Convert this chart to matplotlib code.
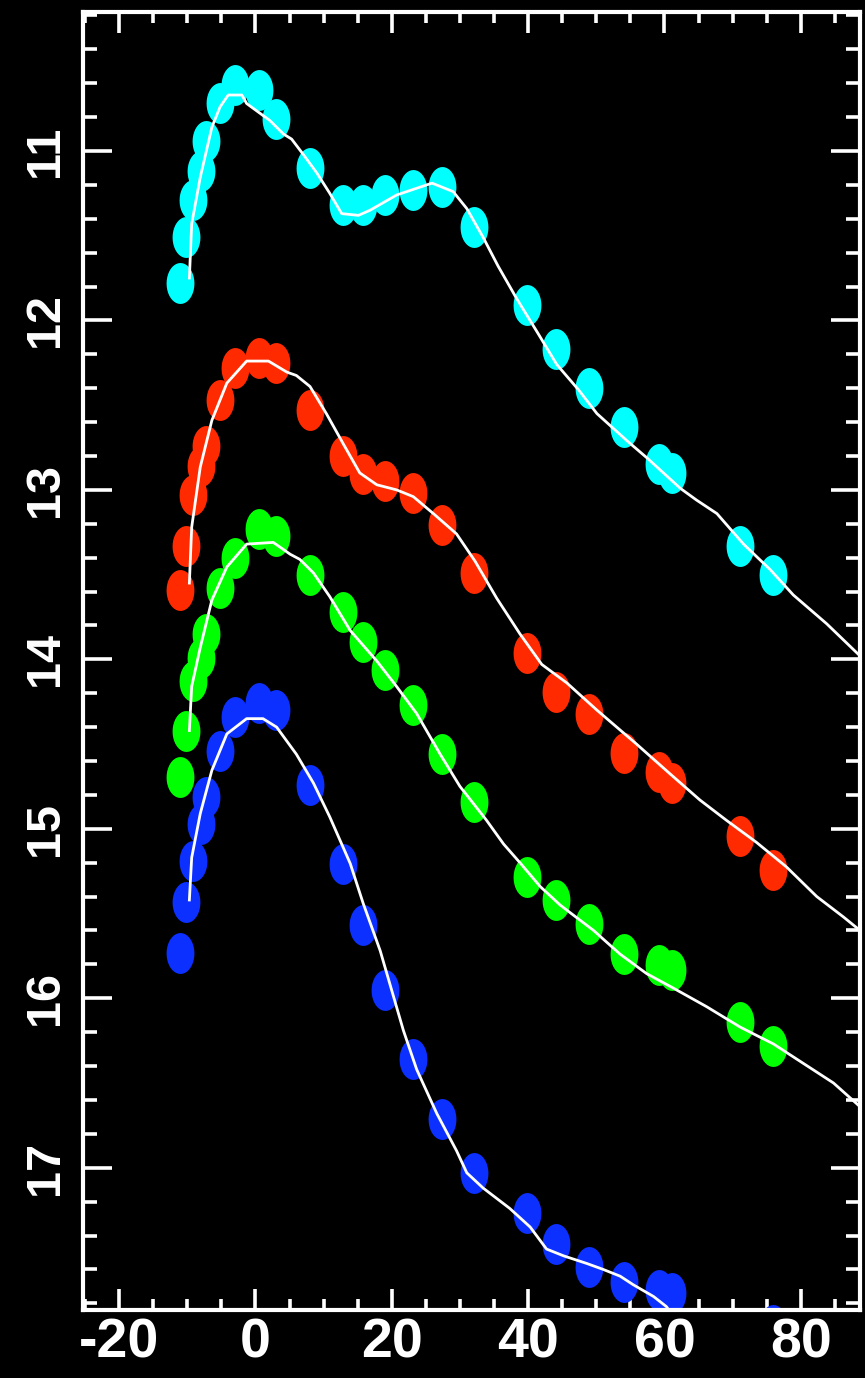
import numpy as np
import matplotlib
matplotlib.use("Agg")
import matplotlib.pyplot as plt
from matplotlib.ticker import MultipleLocator

# epochs (days from maximum) shared by all four bands
epochs = [-11.1, -10.2, -9.1, -8.0, -7.2, -5.2, -3.0, 0.5, 3.0, 8.0, 12.9, 15.8,
          19.0, 23.1, 27.4, 32.1, 39.9, 44.1, 48.9, 54.0, 59.2, 61.1, 71.1, 75.9]

cyan_mag = [11.78, 11.51, 11.29, 11.12, 10.94, 10.72, 10.61, 10.64, 10.81, 11.10, 11.32, 11.32,
            11.26, 11.23, 11.21, 11.45, 11.91, 12.17, 12.40, 12.63, 12.85, 12.90, 13.33, 13.50]
red_mag = [13.59, 13.33, 13.03, 12.86, 12.74, 12.47, 12.28, 12.22, 12.25, 12.53, 12.80, 12.905,
           12.95, 13.02, 13.21, 13.49, 13.96, 14.19, 14.32, 14.55, 14.665, 14.73, 15.04, 15.245]
green_mag = [14.695, 14.42, 14.13, 13.99, 13.85, 13.58, 13.40, 13.23, 13.27, 13.50, 13.72, 13.90,
             14.065, 14.27, 14.56, 14.84, 15.285, 15.42, 15.56, 15.74, 15.805, 15.835, 16.14, 16.28]
blue_mag = [15.73, 15.43, 15.19, 14.97, 14.81, 14.54, 14.34, 14.26, 14.30, 14.74, 15.205, 15.57,
            15.95, 16.36, 16.71, 17.03, 17.27, 17.45, 17.585, 17.675, 17.72, 17.74, 18.10, 17.93]

# template fits
cyan_fit_t = [-9.7, -9.36, -8.1, -6.4, -5.2, -4.0, -2.0, -1.3, 2.1, 4.1, 5.3, 7.0, 9.0, 10.9,
              12.65, 15.1, 16.8, 20.7, 23.65, 25.9, 29.0, 31.0, 33.4, 35.6, 38.3, 41.5, 44.2,
              47.4, 50.1, 54.5, 57.4, 62.3, 64.7, 67.7, 71.6, 75.5, 78.9, 83.8, 88.7]
cyan_fit_m = [11.75, 11.43, 11.155, 10.86, 10.74, 10.67, 10.67, 10.72, 10.82, 10.90, 10.93, 11.02,
              11.13, 11.25, 11.37, 11.38, 11.35, 11.26, 11.22, 11.19, 11.24, 11.34, 11.51, 11.68,
              11.87, 12.08, 12.26, 12.41, 12.55, 12.71, 12.81, 12.99, 13.06, 13.14, 13.32, 13.47,
              13.62, 13.79, 13.98]

red_fit_t = [-9.7, -9.36, -8.1, -6.4, -4.2, -1.3, 1.9, 4.6, 6.0, 8.0, 10.4, 12.9, 15.3, 17.8,
             20.7, 23.15, 26.1, 29.5, 32.2, 35.4, 38.8, 42.0, 45.7, 50.1, 55.9, 60.8, 65.2,
             69.1, 73.5, 77.9, 82.35, 86.25, 88.7]
red_fit_m = [13.55, 13.22, 12.865, 12.59, 12.37, 12.24, 12.24, 12.305, 12.325, 12.39, 12.55, 12.73,
             12.90, 12.97, 13.00, 13.04, 13.14, 13.26, 13.42, 13.64, 13.85, 14.03, 14.14, 14.30,
             14.50, 14.675, 14.83, 14.95, 15.08, 15.225, 15.40, 15.52, 15.60]

green_fit_t = [-9.7, -9.36, -8.1, -6.4, -4.2, -1.3, 2.6, 5.1, 6.5, 8.5, 10.9, 13.9, 17.8, 20.7,
               23.65, 27.1, 30.0, 33.9, 36.4, 38.8, 41.75, 44.7, 49.6, 53.5, 57.4, 61.3, 66.2,
               71.1, 76.0, 80.4, 84.8, 88.7]
green_fit_m = [14.42, 14.16, 13.93, 13.65, 13.455, 13.32, 13.31, 13.38, 13.41, 13.49, 13.63, 13.83,
               14.01, 14.16, 14.32, 14.56, 14.75, 14.95, 15.09, 15.20, 15.34, 15.45, 15.60, 15.74,
               15.855, 15.94, 16.05, 16.17, 16.27, 16.385, 16.50, 16.64]

blue_fit_t = [-9.7, -9.36, -8.1, -6.4, -4.2, -1.3, 1.1, 3.1, 6.0, 8.5, 10.9, 13.9, 15.8, 18.3,
              21.7, 23.65, 26.6, 29.5, 31.0, 33.4, 37.3, 40.3, 42.7, 45.2, 48.6, 51.0, 53.5,
              55.4, 58.4, 60.3, 62.5]
blue_fit_m = [15.42, 15.17, 14.91, 14.655, 14.44, 14.35, 14.35, 14.40, 14.56, 14.73, 14.93, 15.205,
              15.44, 15.72, 16.19, 16.42, 16.68, 16.90, 17.03, 17.12, 17.24, 17.35, 17.48, 17.52,
              17.565, 17.60, 17.64, 17.69, 17.76, 17.82, 17.95]

bands = [
    (cyan_mag, cyan_fit_t, cyan_fit_m, "#00ffff"),
    (red_mag, red_fit_t, red_fit_m, "#ff2a00"),
    (green_mag, green_fit_t, green_fit_m, "#00ff00"),
    (blue_mag, blue_fit_t, blue_fit_m, "#0c30ff"),
]

# tall elliptical symbol
ang = np.linspace(0, 2 * np.pi, 41)[:-1]
blob = list(zip(0.68 * np.cos(ang), np.sin(ang)))

plt.rcParams["font.family"] = ["Liberation Sans", "DejaVu Sans"]
plt.rcParams["font.weight"] = "bold"
plt.rcParams["axes.unicode_minus"] = False

fig = plt.figure(figsize=(8.65, 13.78), dpi=100, facecolor="black")
ax = fig.add_axes([0.096, 0.0493, 0.8983, 0.942])
ax.set_facecolor("black")

for mag, ft, fm, col in bands:
    ax.plot(epochs, mag, linestyle="none", marker=blob, markersize=29.5,
            color=col, markeredgewidth=0)
for mag, ft, fm, col in bands:
    ax.plot(ft, fm, color="white", lw=2.0)

ax.set_xlim(-25.3, 88.7)
ax.set_ylim(17.84, 10.18)

ax.xaxis.set_major_locator(MultipleLocator(20))
ax.xaxis.set_minor_locator(MultipleLocator(5))
ax.yaxis.set_major_locator(MultipleLocator(1))
ax.yaxis.set_minor_locator(MultipleLocator(0.2))

for s in ax.spines.values():
    s.set_color("white")
    s.set_linewidth(3)

ax.tick_params(which="both", direction="in", top=True, right=True,
               color="white", labelcolor="white", width=2.6)
ax.tick_params(axis="x", which="major", length=15, labelsize=40, pad=5)
ax.tick_params(axis="x", which="minor", length=8)
ax.tick_params(axis="y", which="major", length=21, labelsize=35, pad=11, labelrotation=90)
ax.tick_params(axis="y", which="minor", length=10)
for lab in ax.get_yticklabels():
    lab.set_va("center")

fig.savefig("out.png", dpi=100, facecolor="black")
